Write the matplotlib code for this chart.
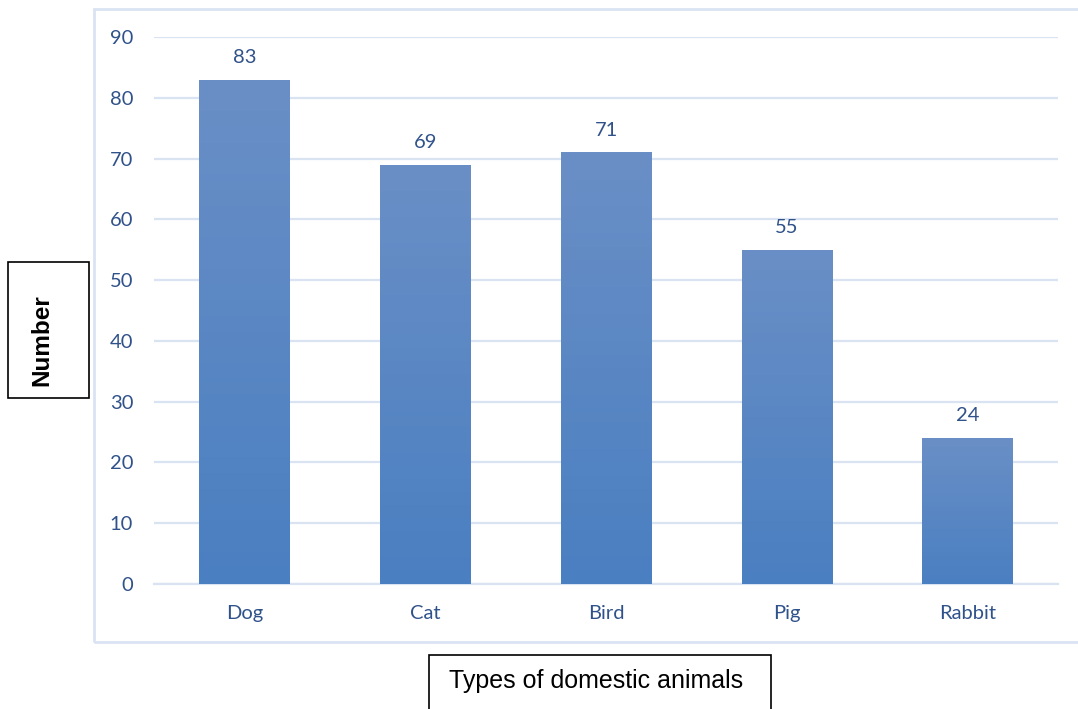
import numpy as np
import matplotlib
matplotlib.use("Agg")
from matplotlib import pyplot as plt
from matplotlib.patches import Rectangle
from matplotlib.colors import LinearSegmentedColormap

# data
animals = ["Dog", "Cat", "Bird", "Pig", "Rabbit"]
counts = [83, 69, 71, 55, 24]
yticks = [0, 10, 20, 30, 40, 50, 60, 70, 80, 90]

W, H = 1078, 709
fig = plt.figure(figsize=(W / 100, H / 100), dpi=100)
ax = fig.add_axes([154 / W, (H - 584) / H, (1058 - 154) / W, 547 / H])

grid_c = "#d9e3f1"
text_c = "#30528a"
cmap = LinearSegmentedColormap.from_list("bar", ["#4a7fc1", "#6a8fc6"])

x = np.arange(len(animals))
bars = ax.bar(x, counts, width=0.5, color="none", edgecolor="none", zorder=3)
grad = np.linspace(0, 1, 256).reshape(-1, 1)
for b in bars:
    x0, y0 = b.get_x(), b.get_y()
    im = ax.imshow(grad, cmap=cmap, aspect="auto", origin="lower",
                   extent=[x0, x0 + b.get_width(), y0, y0 + b.get_height()],
                   zorder=3)
    im.set_clip_path(b)
    ax.annotate(str(int(b.get_height())), (x0 + b.get_width() / 2, b.get_height()),
                xytext=(0, 16), textcoords="offset points", ha="center", va="center",
                fontsize=14.5, color=text_c, family="Lato")

ax.set_xlim(-0.5, len(animals) - 0.5)
ax.set_ylim(0, 90)
ax.set_yticks(yticks)
ax.set_xticks(x)
ax.set_xticklabels(animals)
ax.yaxis.grid(True, color=grid_c, linewidth=1.6, zorder=0)
ax.set_axisbelow(True)
for s in ["top", "right", "left"]:
    ax.spines[s].set_visible(False)
ax.spines["bottom"].set_color(grid_c)
ax.spines["bottom"].set_linewidth(1.6)
ax.tick_params(length=0, labelsize=14.5, labelcolor=text_c)
ax.tick_params(axis="y", pad=15)
ax.tick_params(axis="x", pad=15)
for lab in ax.get_xticklabels() + ax.get_yticklabels():
    lab.set_family("Lato")

# outer chart frame
fig.patches.append(Rectangle((94 / W, (H - 642) / H), (W + 10 - 94) / W, (642 - 9) / H,
                             transform=fig.transFigure, fill=False,
                             edgecolor=grid_c, linewidth=2))

# axis title boxes
fig.patches.append(Rectangle((8 / W, (H - 398) / H), 81 / W, 136 / H,
                             transform=fig.transFigure, fill=False,
                             edgecolor="black", linewidth=1.2))
fig.text(42 / W, (H - 340) / H, "Number", rotation=90, ha="center", va="center",
         fontsize=17.5, fontweight="bold", family="Liberation Sans")
fig.patches.append(Rectangle((429 / W, -5 / H), 342 / W, (H - 655 + 5) / H,
                             transform=fig.transFigure, fill=False,
                             edgecolor="black", linewidth=1.2))
fig.text(596 / W, (H - 681) / H, "Types of domestic animals", ha="center", va="center",
         fontsize=18, family="Liberation Sans")

fig.savefig("out.png", dpi=100)
